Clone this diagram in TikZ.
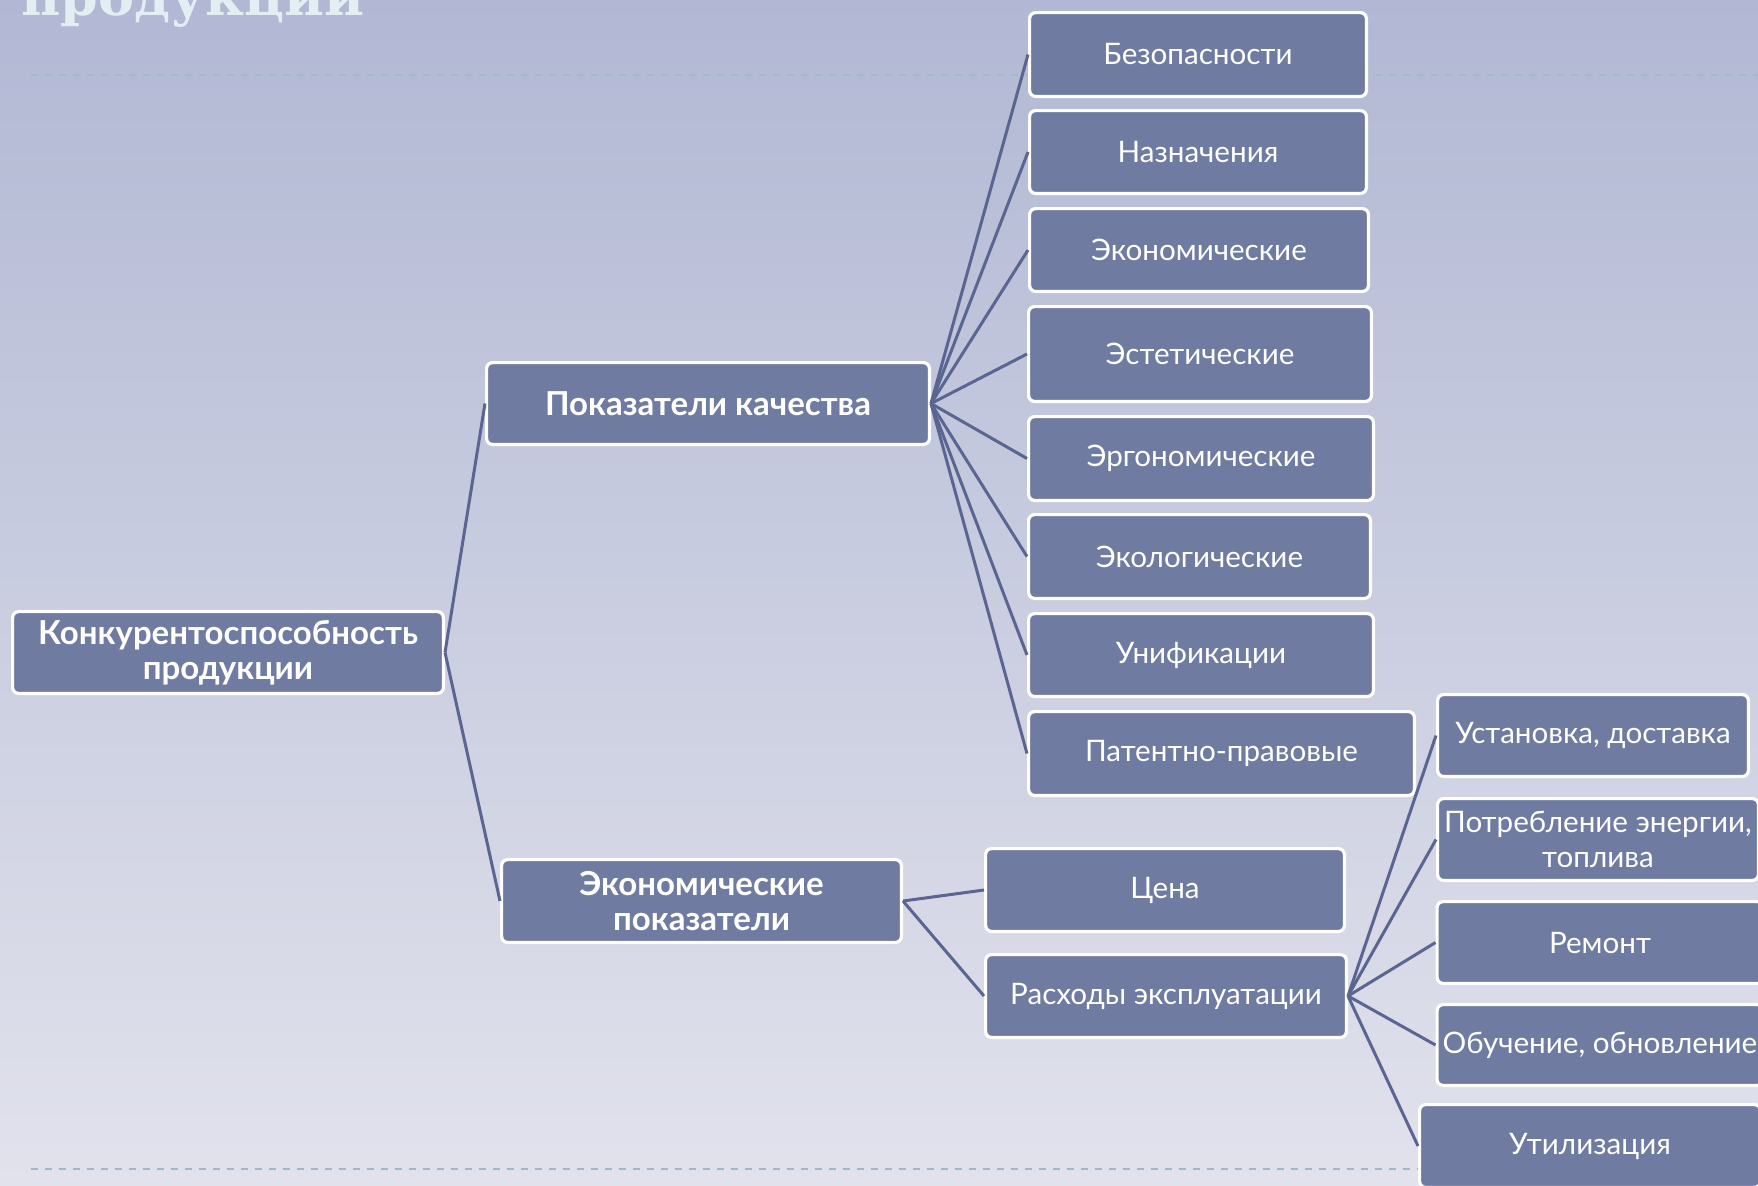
\documentclass[tikz,border=0pt]{standalone}
\usepackage{fontspec}
\setmainfont{Lato}
\newfontfamily\titlefont{DejaVu Serif}
\definecolor{bgtop}{RGB}{178,184,212}
\definecolor{bgbot}{RGB}{225,226,236}
\definecolor{boxfill}{RGB}{111,123,160}
\definecolor{linkcol}{RGB}{91,101,145}
\definecolor{dashtop}{RGB}{157,188,203}
\definecolor{dashbot}{RGB}{164,182,202}
\definecolor{titlecol}{RGB}{226,238,242}
\tikzset{
  bx/.style 2 args={draw=white, line width=1.6pt, fill=boxfill, rounded corners=3pt,
    minimum width={(#1-3.2)*0.5pt}, minimum height={(#2-3.2)*0.5pt}, inner sep=0pt,
    text=white, align=center, font=\fontsize{14.8}{17.5}\selectfont},
  bold/.style={font=\fontsize{16.5}{17.5}\selectfont\bfseries},
  link/.style={draw=linkcol, line width=1.5pt},
  sepline/.style={line width=1pt, dash pattern=on 3.5pt off 3.5pt}
}
\begin{document}
\begin{tikzpicture}[x=0.5pt,y=-0.5pt]
\useasboundingbox (0,0) rectangle (1758,1185);
\clip (0,0) rectangle (1758,1185);
\shade[top color=bgtop, bottom color=bgbot] (0,0) rectangle (1758,1185);
\node[anchor=base west, inner sep=0pt, text=titlecol, font=\titlefont\fontsize{27}{30}\selectfont\bfseries] (title) at (21,15) {продукции};
\coordinate (dt1) at (31,75); \coordinate (dt2) at (1758,75);
\coordinate (db1) at (31,1169); \coordinate (db2) at (1758,1169);
\draw[sepline, draw=dashtop] (dt1) -- (dt2);
\draw[sepline, draw=dashbot] (db1) -- (db2);
% nodes
\node[bx={434}{85}, bold] (konk) at (228,652.5) {Конкурентоспособность\\продукции};
\node[bx={446}{85}, bold] (pok) at (708,403.5) {Показатели качества};
\node[bx={403}{86}, bold] (ekp) at (701.5,901) {Экономические\\показатели};
\node[bx={340}{87}] (bez) at (1198,54.5) {Безопасности};
\node[bx={340}{86}] (naz) at (1198,152) {Назначения};
\node[bx={342}{86}] (eko) at (1199,250) {Экономические};
\node[bx={346}{98}] (est) at (1200,354) {Эстетические};
\node[bx={348}{87}] (erg) at (1201,458.5) {Эргономические};
\node[bx={345}{87}] (ekol) at (1199.5,556.5) {Экологические};
\node[bx={348}{86}] (uni) at (1201,655) {Унификации};
\node[bx={389}{87}] (pat) at (1221.5,753.5) {Патентно-правовые};
\node[bx={362}{86}] (cena) at (1165,890) {Цена};
\node[bx={364}{86}] (rash) at (1166,996) {Расходы эксплуатации};
\node[bx={314}{85}] (ust) at (1593,735.5) {Установка, доставка};
\node[bx={324}{85}] (potr) at (1598,839.5) {Потребление энергии,\\топлива};
\node[bx={329}{85}] (rem) at (1600,942.5) {Ремонт};
\node[bx={329}{84}] (obu) at (1600,1045) {Обучение, обновление};
\node[bx={344}{86}] (util) at (1590,1146) {Утилизация};
% connectors
\draw[link] (konk.east) -- (pok.west);
\draw[link] (konk.east) -- (ekp.west);
\foreach \t in {bez,naz,eko,est,erg,ekol,uni,pat} {\draw[link] (pok.east) -- (\t.west);}
\draw[link] (ekp.east) -- (cena.west);
\draw[link] (ekp.east) -- (rash.west);
\foreach \t in {ust,potr,rem,obu,util} {\draw[link] (rash.east) -- (\t.west);}
\end{tikzpicture}
\end{document}
